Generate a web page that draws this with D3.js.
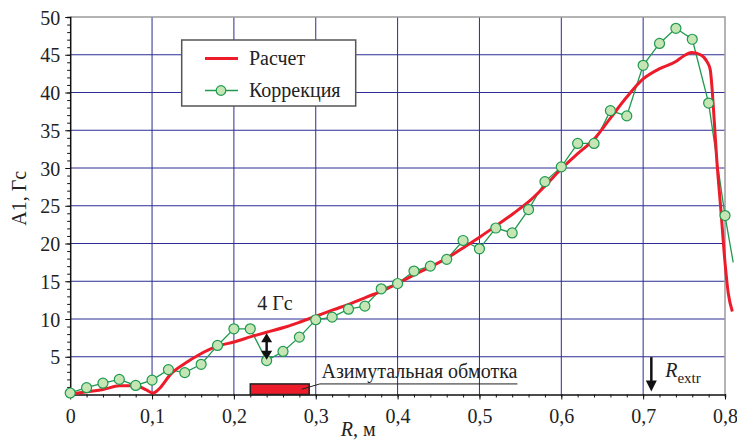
<!DOCTYPE html>
<html>
<head>
<meta charset="utf-8">
<script src="https://cdn.jsdelivr.net/npm/d3@7"></script>
<style>
  html, body { margin: 0; padding: 0; background: #fff; }
  svg { display: block; }
</style>
</head>
<body>
<svg id="chart" width="737" height="441"></svg>
<script>
// Calculated A1 profile (smooth curve): radius R [m] and amplitude [Gs]
const calcR = [0, 0.02, 0.04, 0.06, 0.08, 0.093, 0.101, 0.11, 0.122, 0.14, 0.158, 0.18, 0.2, 0.222, 0.24, 0.265, 0.281, 0.301, 0.321, 0.342, 0.362, 0.383, 0.401, 0.423, 0.444, 0.464, 0.484, 0.501, 0.521, 0.541, 0.562, 0.58, 0.6, 0.62, 0.64, 0.66, 0.68, 0.7, 0.719, 0.74, 0.749, 0.759, 0.77, 0.778, 0.782, 0.784, 0.786, 0.79, 0.795, 0.8, 0.804, 0.809];
const calcA = [0, 0.35, 0.65, 1.15, 1.15, 0.6, 0.2, 0.9, 2.6, 4.1, 5.3, 6.4, 6.95, 7.7, 8.25, 9.0, 9.6, 10.4, 11.2, 12.0, 12.9, 13.8, 14.75, 16.0, 17.1, 18.3, 19.7, 20.9, 22.4, 23.95, 25.7, 27.6, 29.9, 31.9, 33.8, 36.6, 39.4, 41.8, 43.1, 44.1, 44.8, 45.3, 45.0, 44.1, 43.0, 40.8, 37.7, 31.0, 24.4, 17.5, 13.4, 11.0];

// Corrected A1 profile (measured points)
const corrR = [0, 0.02, 0.04, 0.06, 0.08, 0.10, 0.12, 0.14, 0.16, 0.18, 0.20, 0.22, 0.24, 0.26, 0.28, 0.30, 0.32, 0.34, 0.36, 0.38, 0.40, 0.42, 0.44, 0.46, 0.48, 0.50, 0.52, 0.54, 0.56, 0.58, 0.60, 0.62, 0.64, 0.66, 0.68, 0.70, 0.72, 0.74, 0.76, 0.78, 0.80, 0.81];
const corrA = [0.2, 0.9, 1.5, 2.0, 1.2, 1.9, 3.3, 2.9, 4.0, 6.5, 8.7, 8.7, 4.5, 5.7, 7.6, 9.9, 10.25, 11.3, 11.7, 14.0, 14.7, 16.35, 17.0, 17.9, 20.4, 19.3, 22.05, 21.4, 24.5, 28.2, 30.15, 33.25, 33.25, 37.6, 36.9, 43.6, 46.5, 48.5, 47.05, 38.6, 23.7, 17.5];

// Axis ticks
const xTicks = [0, 0.1, 0.2, 0.3, 0.4, 0.5, 0.6, 0.7, 0.8];
const yTicks = [5, 10, 15, 20, 25, 30, 35, 40, 45, 50];

// Legend entries
const seriesNames = ["Расчет", "Коррекция"];

// Annotations
const gapR = 0.24;              // location of the "4 Гс" gap
const gapFrom = 4.6, gapTo = 8.1;
const gapLabel = "4 Гс";
const coilRange = [0.22, 0.292]; // azimuthal winding extent
const coilHeight = 1.4;
const coilLabel = "Азимутальная обмотка";
const extrR = 0.71;             // extraction radius

const FONT = "'Liberation Serif', Tinos, 'Times New Roman', 'DejaVu Serif', serif";

const svg = d3.select("#chart");
const x = d3.scaleLinear().domain([0, 0.8]).range([70.2, 725]);
const y = d3.scaleLinear().domain([0, 50]).range([394.5, 17]);
const fmt = d => d3.format(".1f")(d).replace(".0", "").replace(".", ",");

const gridColor = "#2c2c94";

// grid
svg.append("g").selectAll("line").data(xTicks.filter(d => d > 0 && d < 0.8)).join("line")
  .attr("x1", d => x(d)).attr("x2", d => x(d)).attr("y1", y(0)).attr("y2", y(50))
  .attr("stroke", gridColor).attr("stroke-width", 1);
svg.append("g").selectAll("line").data(yTicks.filter(d => d < 50)).join("line")
  .attr("x1", x(0)).attr("x2", x(0.8)).attr("y1", d => y(d)).attr("y2", d => y(d))
  .attr("stroke", gridColor).attr("stroke-width", 1);

// frame (top / right)
svg.append("path")
  .attr("d", `M${x(0)},${y(50)}H${x(0.8)}V${y(0)}`)
  .attr("fill", "none").attr("stroke", "#9a9a9a").attr("stroke-width", 1.5);

// X axis
const xAxisG = svg.append("g").attr("transform", `translate(0,${y(0)})`);
xAxisG.call(d3.axisBottom(x).tickValues(d3.range(0, 0.8001, 0.02)).tickSize(3).tickFormat(""));
xAxisG.call(g => g.select(".domain").attr("stroke", "#111").attr("stroke-width", 1.5));
xAxisG.selectAll(".tick line").attr("stroke", "#111");
const xMajor = svg.append("g").attr("transform", `translate(0,${y(0)})`)
  .call(d3.axisBottom(x).tickValues(xTicks).tickSize(5).tickFormat(fmt));
xMajor.attr("font-family", FONT).attr("font-size", 20);
xMajor.select(".domain").remove();
xMajor.selectAll(".tick line").attr("stroke", "#111");
xMajor.selectAll(".tick text").attr("y", 28.5).attr("dy", null).attr("fill", "#222");

// Y axis
const yAxisG = svg.append("g").attr("transform", `translate(${x(0)},0)`);
yAxisG.call(d3.axisLeft(y).tickValues(d3.range(0, 50.01, 1)).tickSize(3).tickFormat(""));
yAxisG.call(g => g.select(".domain").attr("stroke", "#111").attr("stroke-width", 1.5));
yAxisG.selectAll(".tick line").attr("stroke", "#111");
const yMajor = svg.append("g").attr("transform", `translate(${x(0)},0)`)
  .call(d3.axisLeft(y).tickValues(yTicks).tickSize(5).tickFormat(d3.format("d")));
yMajor.attr("font-family", FONT).attr("font-size", 20);
yMajor.select(".domain").remove();
yMajor.selectAll(".tick line").attr("stroke", "#111");
yMajor.selectAll(".tick text").attr("x", -10).attr("dy", "0.35em").attr("fill", "#222");

// axis titles
svg.append("text")
  .attr("transform", `translate(26,${y(26)}) rotate(-90)`)
  .attr("text-anchor", "middle")
  .text("A1, Гс");
const xt = svg.append("text").attr("x", x(0.352)).attr("y", 436)
  .attr("text-anchor", "middle");
xt.append("tspan").attr("font-style", "italic").text("R");
xt.append("tspan").text(", м");

// data lines
const calc = calcR.map((r, i) => [r, calcA[i]]);
const corr = corrR.map((r, i) => [r, corrA[i]]);

svg.append("path").datum(corr)
  .attr("fill", "none").attr("stroke", "#1f9a4f").attr("stroke-width", 1.3)
  .attr("d", d3.line().x(d => x(d[0])).y(d => y(d[1])));

svg.append("path").datum(calc)
  .attr("fill", "none").attr("stroke", "#ec1c2a").attr("stroke-width", 3)
  .attr("stroke-linejoin", "round")
  .attr("d", d3.line().curve(d3.curveMonotoneX).x(d => x(d[0])).y(d => y(d[1])));

svg.append("g").selectAll("circle").data(corr.filter(d => d[0] <= 0.8 + 1e-9)).join("circle")
  .attr("cx", d => x(d[0])).attr("cy", d => y(d[1])).attr("r", 5)
  .attr("fill", "#c5e5b4").attr("stroke", "#1f9a4f").attr("stroke-width", 1.2);

// azimuthal winding block with leader
svg.append("rect")
  .attr("x", x(coilRange[0])).attr("y", y(coilHeight))
  .attr("width", x(coilRange[1]) - x(coilRange[0])).attr("height", y(0) - y(coilHeight))
  .attr("fill", "#ec1c2a").attr("stroke", "#222").attr("stroke-width", 1.5);
const coilText = svg.append("text").attr("x", x(0.307)).attr("y", y(2.2))
  .text(coilLabel);

// "4 Гс" double arrow
const ax = x(gapR);
const y1 = y(gapTo), y2 = y(gapFrom);
svg.append("line").attr("x1", ax).attr("x2", ax).attr("y1", y1 + 6).attr("y2", y2 - 6)
  .attr("stroke", "#111").attr("stroke-width", 2.5);
svg.append("path").attr("d", `M${ax},${y1}l-5.5,9h11z`).attr("fill", "#111");
svg.append("path").attr("d", `M${ax},${y2}l-5.5,-9h11z`).attr("fill", "#111");
svg.append("text").attr("x", x(0.2285)).attr("y", y(11.2)).text(gapLabel);

// R_extr marker
const ex = x(extrR);
svg.append("line").attr("x1", ex).attr("x2", ex).attr("y1", y(4.95)).attr("y2", y(1.1))
  .attr("stroke", "#111").attr("stroke-width", 2.5);
svg.append("path").attr("d", `M${ex},${y(0.4)}l-5.5,-11h11z`).attr("fill", "#111");
const et = svg.append("text").attr("x", x(0.727)).attr("y", y(2.35));
et.append("tspan").attr("font-style", "italic").text("R");
et.append("tspan").attr("dy", 6).attr("font-size", 15).text("extr");

// legend
const lg = svg.append("g");
lg.append("rect").attr("x", 181.7).attr("y", 40).attr("width", 174).attr("height", 66)
  .attr("fill", "#fff").attr("stroke", "#555").attr("stroke-width", 1.5);
const items = lg.selectAll("g.item").data(seriesNames).join("g").attr("class", "item")
  .attr("transform", (d, i) => `translate(0,${58.5 + i * 32})`);
items.append("line").attr("x1", 205).attr("x2", 238).attr("y1", 0).attr("y2", 0)
  .attr("stroke", (d, i) => i === 0 ? "#ec1c2a" : "#1f9a4f")
  .attr("stroke-width", (d, i) => i === 0 ? 3 : 1.3);
items.filter((d, i) => i === 1).append("circle").attr("cx", 221).attr("cy", 0).attr("r", 4.8)
  .attr("fill", "#c5e5b4").attr("stroke", "#1f9a4f").attr("stroke-width", 1.2);
items.append("text").attr("x", 249).attr("y", 0).attr("dy", "0.33em").text(d => d);

// shared typography for every label
svg.selectAll("text").each(function () {
  const t = d3.select(this);
  t.attr("font-family", FONT).style("font-family", FONT);
  if (!t.attr("font-size")) t.attr("font-size", 20);
  if (!t.attr("fill")) t.attr("fill", "#222");
});

// leader line under the winding label, sized to the rendered text
const tw = coilText.node().getComputedTextLength();
svg.append("path")
  .attr("d", `M${x(0.283)},${y(0.7)}L${x(0.305)},${y(coilHeight)}H${x(0.307) + tw}`)
  .attr("fill", "none").attr("stroke", "#222").attr("stroke-width", 1);
</script>
</body>
</html>
